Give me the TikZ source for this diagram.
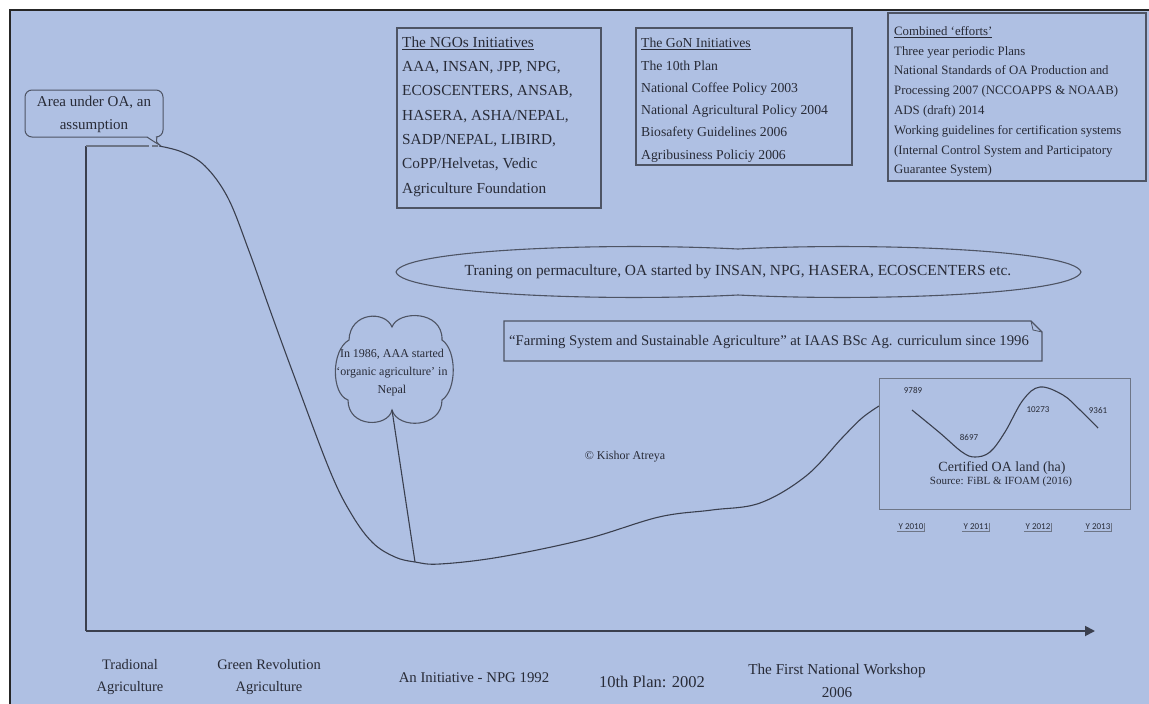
\documentclass[tikz,border=0pt]{standalone}
\usepackage{fontspec}
\setmainfont{Liberation Serif}
\newfontfamily\numfont{Carlito}
\usetikzlibrary{arrows.meta}
\definecolor{bgblue}{RGB}{175,192,227}
\definecolor{ink}{RGB}{40,43,55}
\definecolor{linec}{RGB}{58,63,78}
\definecolor{boxc}{RGB}{78,84,100}
\definecolor{lightbox}{RGB}{110,118,135}
\newcommand{\fsz}[2]{\fontsize{#1}{#2}\selectfont}
\tikzset{
  curve/.style={draw=linec, line width=1.1pt},
  boxline/.style={draw=boxc, line width=1.1pt},
  txt/.style={text=ink, inner sep=0pt},
  yearlab/.style={text=ink, inner sep=1pt, font=\numfont\fsz{9}{10}},
  yearsh/.style={draw=lightbox, line width=1.3pt},
  numlab/.style={text=ink, inner sep=0pt, font=\numfont\fsz{9}{10}},
}
\begin{document}
\begin{tikzpicture}[x=1pt,y=-1pt]
\useasboundingbox (0,0) rectangle (1149,704);
\fill[white] (0,0) rectangle (1149,704);
\fill[bgblue] (10,10) rectangle (1149,704);
\draw[black!85, line width=1.6pt] (10,10) rectangle (1165,720);

% axes
\coordinate (origin) at (86,631);
\coordinate (ytop) at (86,146);
\coordinate (xend) at (1095,631);
\coordinate (flatend) at (149,146);
\coordinate (dashA) at (152,146);
\coordinate (dashB) at (158,146);
\draw[draw=linec, line width=1.1pt] (ytop) -- (origin);
\draw[draw=linec, line width=1.8pt, -{Triangle[length=10pt,width=10pt]}] (origin) -- (xend);
\draw[draw=lightbox, line width=1.2pt] (ytop) -- (flatend);
\draw[draw=lightbox, line width=1.2pt] (dashA) -- (dashB);

% main curve
\coordinate (cstart) at (159,146);
\coordinate (cmin) at (415,562);
\coordinate (cend) at (879,406);
\draw[curve] plot[smooth, tension=0.6] coordinates {(159,146) (182,152) (205,166) (228,198) (249,251) (270,310) (293,373) (330,471) (352,515) (373,543) (395,557) (415,562) (440,564) (500,557) (586,539) (659,517) (712,510) (760,503) (806,476) (842,438) (862,418) (879,406)};

% callout
\node[txt, font=\fsz{15}{23}, align=center] (callout) at (94,114) {Area under OA, an\\assumption};
\draw[boxc, line width=1pt, rounded corners=7pt] (147,137) -- (25,137) -- (25,90) -- (163,90) -- (163,137) -- (157,137);
\draw[boxc, line width=1pt] (147,137) .. controls (153,141) .. (161,146) .. controls (156,142) .. (157,137);

% NGO box
\draw[boxline] (397,28) rectangle (601,208);
\node[txt, anchor=north west, align=left, font=\fsz{15.3}{24.3}] (ngo) at (402,36.5) {\underline{The NGOs Initiatives}\\AAA, INSAN, JPP, NPG,\\ECOSCENTERS, ANSAB,\\HASERA, ASHA/NEPAL,\\SADP/NEPAL, LIBIRD,\\CoPP/Helvetas, Vedic\\Agriculture Foundation};

% GoN box
\draw[boxline] (636,28) rectangle (852,165);
\node[txt, anchor=north west, align=left, font=\fsz{13.7}{22.3}] (gon) at (641,38) {\underline{The GoN Initiatives}\\The 10th Plan\\National Coffee Policy 2003\\National Agricultural Policy 2004\\Biosafety Guidelines 2006\\Agribusiness Policiy 2006};

% Combined box
\draw[boxline] (888,13) rectangle (1146,181);
\node[txt, anchor=north west, align=left, font=\fsz{12.8}{19.8}] (comb) at (894,26) {\underline{Combined ‘efforts’}\\Three year periodic Plans\\National Standards of OA Production and\\Processing 2007 (NCCOAPPS \& NOAAB)\\ADS (draft) 2014\\Working guidelines for certification systems\\(Internal Control System and Participatory\\Guarantee System)};

% wave / double ellipse
\draw[boxline] (396,272) .. controls (402,250) and (600,242) .. (738,249)
  .. controls (876,242) and (1075,250) .. (1081,272)
  .. controls (1075,294) and (876,302) .. (738,295)
  .. controls (600,302) and (402,294) .. cycle;
\node[txt, font=\fsz{15.4}{18}] (training) at (738,272) {Traning on permaculture, OA started by INSAN, NPG, HASERA, ECOSCENTERS etc.};

% folded corner box
\draw[boxline] (504,321) -- (1031,321) -- (1042,332) -- (1042,361) -- (504,361) -- cycle;
\draw[boxc, line width=0.8pt] (1031,321) -- (1033,330) -- (1042,332);
\node[txt, font=\fsz{14.7}{17}] (farming) at (769,342) {“Farming System and Sustainable Agriculture” at IAAS BSc Ag. curriculum since 1996};

% cloud
\coordinate (cloudtip) at (392,410);
\draw[boxline] (392,327) .. controls (385,310) and (350,312) .. (349,340)
  .. controls (331,350) and (331,394) .. (348,400)
  .. controls (348,428) and (388,428) .. (392,410)
  .. controls (398,430) and (442,428) .. (442,400)
  .. controls (457,390) and (457,350) .. (442,340)
  .. controls (443,310) and (398,310) .. cycle;
\node[txt, font=\fsz{12}{18}, align=center] (cloudtext) at (392,373) {In 1986, AAA started\\‘organic agriculture’ in\\Nepal};
\draw[curve] (cloudtip) -- (cmin);

% copyright
\node[txt, font=\fsz{12}{14}] (copy) at (625,457) {© Kishor Atreya};

% inset chart
\draw[draw=lightbox, line width=0.9pt] (879,378) rectangle (1130,509);
\draw[curve] plot[smooth, tension=0.6] coordinates {(912,410) (940,433) (962,452) (975,457) (990,452) (1005,432) (1023,400) (1040,387) (1063,395) (1080,410) (1098,428)};
\node[numlab] (n2010) at (913,390) {9789};
\node[numlab] (n2011) at (969,437) {8697};
\node[numlab] (n2012) at (1038,410) {10273};
\node[numlab] (n2013) at (1098,410) {9361};
\node[txt, font=\fsz{14}{16}] (certlab) at (1002,468) {Certified OA land (ha)};
\node[txt, font=\fsz{11}{13}] (srclab) at (1001,482) {Source: FiBL \& IFOAM (2016)};

\foreach \n/\xx/\lab in {y2010/911/Y 2010, y2011/976/Y 2011, y2012/1038/Y 2012, y2013/1098/Y 2013}{
  \node[yearlab] (\n) at (\xx,527) {\lab};
  \draw[yearsh] (\n.south west) -- (\n.south east) -- (\n.north east);
}

% bottom labels
\node[txt, font=\fsz{14.5}{22}, align=center] (trad) at (130,677) {Tradional\\Agriculture};
\node[txt, font=\fsz{14.5}{22}, align=center] (green) at (269,677) {Green Revolution\\Agriculture};
\node[txt, font=\fsz{14.8}{17}] (npg) at (474,678) {An Initiative - NPG 1992};
\node[txt, font=\fsz{16.5}{19}] (tenth) at (652,682) {10th Plan: 2002};
\node[txt, font=\fsz{15.2}{23}, align=center] (workshop) at (837,681) {The First National Workshop\\2006};
\end{tikzpicture}
\end{document}
